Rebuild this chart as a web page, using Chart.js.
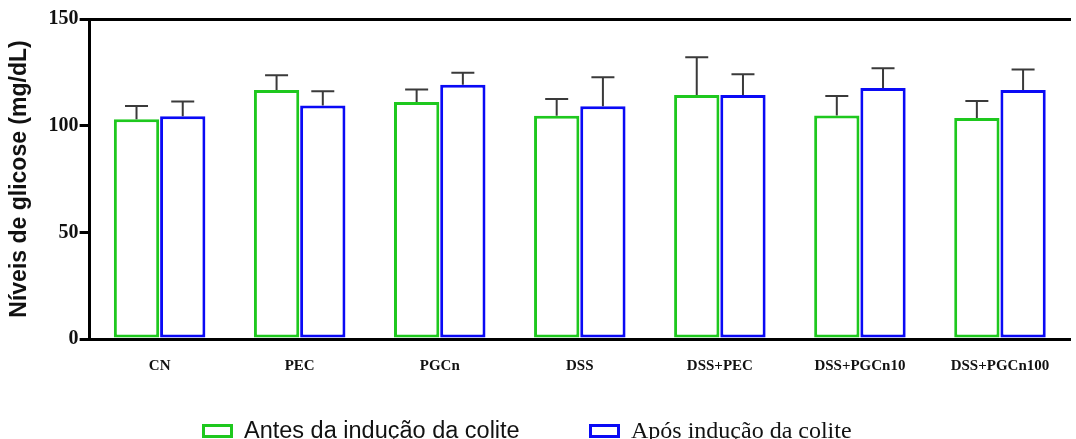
<!DOCTYPE html>
<html>
<head>
<meta charset="utf-8">
<script src="https://cdn.jsdelivr.net/npm/chart.js@4/dist/chart.umd.min.js"></script>
<style>
  html, body { margin: 0; padding: 0; background: #fff; }
  #wrap { position: relative; width: 1076px; height: 439px; }
  .legend { position: absolute; top: 417px; display: flex; align-items: center; font-size: 23.5px; color: #111; line-height: 27px; }
  .legend .box { width: 31px; height: 14px; border: 3px solid; box-sizing: border-box; margin-right: 11px; }
  #legA { left: 202px; font-family: "Liberation Sans", Arial, sans-serif; }
  #legB { left: 589px; font-family: "Liberation Serif", "Times New Roman", serif; font-size: 24px; }
</style>
</head>
<body>
<div id="wrap">
  <canvas id="glucoseChart" width="1076" height="439"></canvas>
  <div class="legend" id="legA"><span class="box" style="border-color:#1ec81e"></span>Antes da indução da colite</div>
  <div class="legend" id="legB"><span class="box" style="border-color:#0a0af5"></span>Após indução da colite</div>
</div>
<script>
const groups = ["CN", "PEC", "PGCn", "DSS", "DSS+PEC", "DSS+PGCn10", "DSS+PGCn100"];
const beforeValues = [103, 116.7, 111.1, 104.7, 114.4, 104.8, 103.6];
const beforeErrors = [6.2, 6.9, 5.9, 7.8, 17.7, 9.1, 8.0];
const afterValues = [104.4, 109.5, 119.2, 109.1, 114.4, 117.7, 116.7];
const afterErrors = [6.9, 6.6, 5.6, 13.6, 9.7, 9.2, 9.6];
const yTicks = [0, 50, 100, 150];

// upper-only error bars with caps, drawn from the bar elements
const errorBars = {
  id: 'errorBars',
  afterDatasetsDraw(chart) {
    const ctx = chart.ctx;
    const yScale = chart.scales.y;
    const errs = [beforeErrors, afterErrors];
    ctx.save();
    ctx.strokeStyle = '#3a3a3a';
    ctx.lineWidth = 2;
    chart.data.datasets.forEach((ds, di) => {
      const meta = chart.getDatasetMeta(di);
      meta.data.forEach((bar, i) => {
        const top = yScale.getPixelForValue(ds.data[i] + errs[di][i]);
        const x = bar.x;
        ctx.beginPath();
        ctx.moveTo(x, bar.y);
        ctx.lineTo(x, top);
        ctx.moveTo(x - 11.5, top);
        ctx.lineTo(x + 11.5, top);
        ctx.stroke();
      });
    });
    ctx.restore();
  }
};

const ctx = document.getElementById('glucoseChart').getContext('2d');
new Chart(ctx, {
  type: 'bar',
  data: {
    labels: groups,
    datasets: [
      {
        label: 'Antes da indução da colite',
        data: beforeValues,
        borderColor: '#1ec81e',
        backgroundColor: '#ffffff',
        borderWidth: 3,
        borderSkipped: false,
        categoryPercentage: 0.66,
        barPercentage: 0.98
      },
      {
        label: 'Após indução da colite',
        data: afterValues,
        borderColor: '#0a0af5',
        backgroundColor: '#ffffff',
        borderWidth: 3,
        borderSkipped: false,
        categoryPercentage: 0.66,
        barPercentage: 0.98
      }
    ]
  },
  options: {
    responsive: false,
    animation: false,
    layout: { padding: { left: 6, right: 6, top: 11, bottom: 54 } },
    plugins: {
      legend: { display: false },
      tooltip: { enabled: false }
    },
    scales: {
      x: {
        grid: { display: false },
        border: { color: '#000', width: 3 },
        ticks: {
          color: '#111',
          padding: 10,
          font: { family: 'Liberation Serif', size: 15, weight: 'bold' }
        }
      },
      x2: {
        position: 'top',
        labels: groups,
        grid: { display: false },
        border: { color: '#000', width: 3 },
        ticks: { display: false }
      },
      y: {
        min: 0,
        max: 150,
        afterBuildTicks: (axis) => { axis.ticks = yTicks.map(v => ({ value: v })); },
        grid: { drawOnChartArea: false, drawTicks: true, tickLength: 10, color: '#000', lineWidth: 3 },
        border: { color: '#000', width: 3 },
        ticks: {
          color: '#111',
          padding: 1,
          font: { family: 'Liberation Serif', size: 20, weight: 'bold' }
        },
        title: {
          display: true,
          text: 'Níveis de glicose (mg/dL)',
          color: '#111',
          padding: { top: 0, bottom: 14 },
          font: { family: 'Liberation Sans', size: 23, weight: 'bold' }
        }
      }
    }
  },
  plugins: [errorBars]
});
</script>
</body>
</html>
